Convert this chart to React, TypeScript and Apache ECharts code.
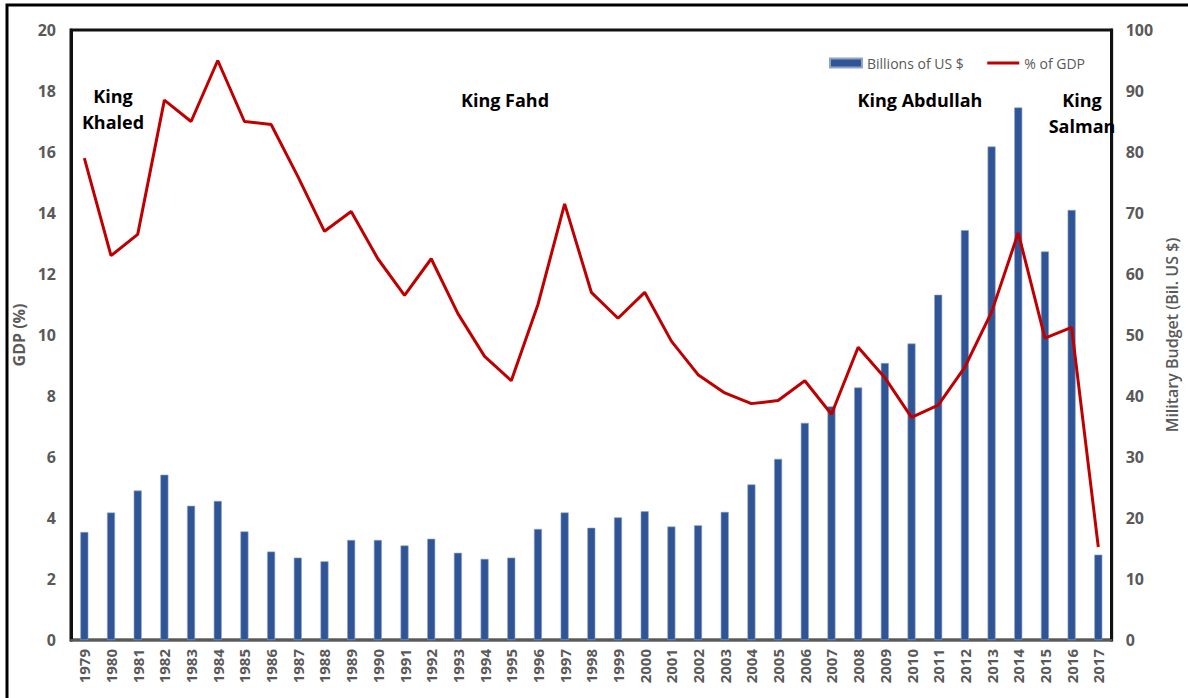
import React, { useEffect, useRef } from "react";
import * as echarts from "echarts";

const years = [
  "1979", "1980", "1981", "1982", "1983", "1984", "1985", "1986", "1987", "1988",
  "1989", "1990", "1991", "1992", "1993", "1994", "1995", "1996", "1997", "1998",
  "1999", "2000", "2001", "2002", "2003", "2004", "2005", "2006", "2007", "2008",
  "2009", "2010", "2011", "2012", "2013", "2014", "2015", "2016", "2017",
];

// Military budget, billions of US $ (right axis)
const budgetBillions = [
  17.7, 20.9, 24.5, 27.1, 22.0, 22.8, 17.8, 14.5, 13.5, 12.9,
  16.4, 16.4, 15.5, 16.6, 14.3, 13.3, 13.5, 18.2, 20.9, 18.4,
  20.1, 21.1, 18.6, 18.8, 21.0, 25.5, 29.7, 35.6, 38.3, 41.4,
  45.4, 48.6, 56.6, 67.2, 80.9, 87.3, 63.7, 70.5, 14.0,
];

// Military budget as % of GDP (left axis)
const gdpPercent = [
  15.8, 12.6, 13.3, 17.7, 17.0, 19.0, 17.0, 16.9, 15.2, 13.4,
  14.05, 12.5, 11.3, 12.5, 10.7, 9.3, 8.5, 11.0, 14.3, 11.4,
  10.55, 11.4, 9.8, 8.7, 8.1, 7.75, 7.85, 8.5, 7.4, 9.6,
  8.6, 7.3, 7.7, 8.95, 10.75, 13.35, 9.9, 10.25, 3.05,
];

const leftTicks = { min: 0, max: 20, interval: 2 };
const rightTicks = { min: 0, max: 100, interval: 10 };

const kings = [
  { text: "King\nKhaled", x: 113, y: 83 },
  { text: "King Fahd", x: 505, y: 87 },
  { text: "King Abdullah", x: 920, y: 87 },
  { text: "King\nSalman", x: 1082, y: 87 },
];

export default function App() {
  const ref = useRef<HTMLDivElement>(null);
  useEffect(() => {
    document.body.style.margin = "0";
    const chart = echarts.init(ref.current!, null, { renderer: "svg" });
    const font = "'Open Sans', Calibri, sans-serif";
    const gray = "#595959";
    chart.setOption({
      animation: false,
      backgroundColor: "#fff",
      grid: {
        left: 71,
        right: 68,
        top: 30,
        bottom: 58,
        show: true,
        borderColor: "#111",
        borderWidth: 3,
        backgroundColor: "transparent",
      },
      legend: {
        right: 98,
        top: 51,
        itemWidth: 32,
        itemHeight: 9,
        itemGap: 22,
        textStyle: { color: gray, fontSize: 14, fontFamily: font },
        data: [
          { name: "Billions of US $", icon: "rect" },
          { name: "% of GDP", itemStyle: { opacity: 0 }, lineStyle: { width: 3, color: "#C00000" } },
        ],
      },
      xAxis: {
        type: "category",
        data: years,
        axisLine: { show: true, lineStyle: { color: "#595959", width: 2 } },
        axisTick: { show: false },
        axisLabel: {
          rotate: 90,
          color: gray,
          fontSize: 15,
          fontWeight: "bold",
          fontFamily: font,
          margin: 9,
          interval: 0,
        },
      },
      yAxis: [
        {
          type: "value",
          ...leftTicks,
          name: "GDP (%)",
          nameLocation: "middle",
          nameGap: 44,
          nameTextStyle: { color: gray, fontSize: 16, fontWeight: "bold", fontFamily: font },
          axisLine: { show: true, lineStyle: { color: "#111", width: 3 } },
          axisTick: { show: false },
          splitLine: { show: false },
          axisLabel: { color: gray, fontSize: 16, fontWeight: "bold", fontFamily: font, margin: 15 },
        },
        {
          type: "value",
          ...rightTicks,
          name: "Military Budget (Bil. US $)",
          nameLocation: "middle",
          nameGap: 52,
          nameRotate: 90,
          nameTextStyle: { color: gray, fontSize: 16, fontWeight: 600, fontFamily: font },
          axisLine: { show: true, lineStyle: { color: "#111", width: 3 } },
          axisTick: { show: false },
          splitLine: { show: false },
          axisLabel: { color: gray, fontSize: 16, fontWeight: "bold", fontFamily: font, margin: 14 },
        },
      ],
      series: [
        {
          name: "Billions of US $",
          type: "bar",
          yAxisIndex: 1,
          data: budgetBillions,
          barWidth: 8,
          itemStyle: { color: "#2F5597", borderColor: "#8FA3C8", borderWidth: 0.6 },
          z: 2,
        },
        {
          name: "% of GDP",
          type: "line",
          yAxisIndex: 0,
          data: gdpPercent,
          symbol: "none",
          lineStyle: { color: "#C00000", width: 3 },
          itemStyle: { color: "#C00000" },
          z: 3,
        },
      ],
      graphic: [
        {
          type: "rect",
          shape: { x: 7, y: 5, width: 1400, height: 900 },
          style: { fill: "none", stroke: "#000", lineWidth: 3 },
          silent: true,
        },
        ...kings.map((k) => ({
          type: "text",
          x: k.x,
          y: k.y,
          style: {
            text: k.text,
            fill: "#000",
            font: `bold 18px ${font}`,
            textAlign: "center",
            textVerticalAlign: "top",
            lineHeight: 26,
          },
          z: 10,
        })),
      ],
    });
    return () => chart.dispose();
  }, []);
  return (
    <div
      ref={ref}
      style={{ position: "absolute", left: 0, top: 0, width: 1188, height: 698 }}
    />
  );
}
